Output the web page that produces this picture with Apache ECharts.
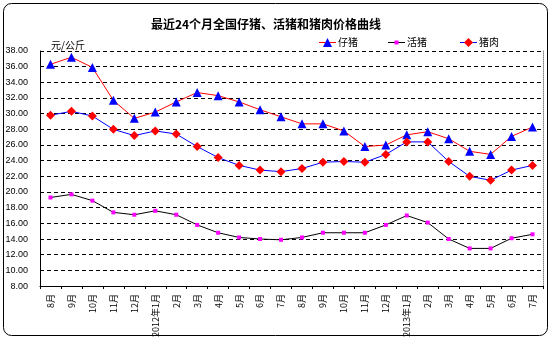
<!DOCTYPE html>
<html><head><meta charset="utf-8">
<script src="https://cdn.jsdelivr.net/npm/echarts@6/dist/echarts.min.js"></script>
<style>html,body{margin:0;padding:0;background:#fff}#c{width:553px;height:340px}</style>
</head><body><div id="c"></div>
<script>
var categories = ['8月','9月','10月','11月','12月','2012年1月','2月','3月','4月','5月','6月','7月','8月','9月','10月','11月','12月','2013年1月','2月','3月','4月','5月','6月','7月'];
var piglet = [36.3,37.2,35.9,31.7,29.4,30.2,31.5,32.7,32.3,31.5,30.5,29.6,28.7,28.7,27.8,25.8,26.0,27.3,27.7,26.8,25.2,24.8,27.1,28.3];
var hog    = [19.3,19.7,18.9,17.4,17.1,17.6,17.1,15.8,14.8,14.2,14.0,13.9,14.2,14.8,14.8,14.8,15.8,17.0,16.1,14.0,12.8,12.8,14.1,14.6];
var pork   = [29.8,30.3,29.7,28.0,27.2,27.8,27.4,25.8,24.4,23.4,22.8,22.6,23.0,23.8,23.9,23.8,24.8,26.4,26.4,23.9,22.0,21.5,22.8,23.4];
var yMin = 8, yMax = 38, yStep = 2;
var seriesNames = ['仔猪','活猪','猪肉'];
var titleText = '最近24个月全国仔猪、活猪和猪肉价格曲线';
var unitText = '元/公斤';

var lineColors = ['#ff0000','#000000','#0000ff'];
var markColors = ['#0000ff','#ff00ff','#ff0000'];
var symbols = ['triangle','rect','diamond'];
var symSizes = [9,4,9];
var cjk = '"Noto Sans CJK SC", sans-serif';

var legendX = [319, 388, 460];
var legendY = 42;
var graphics = [{type:'rect', shape:{x:3.5,y:3.5,width:544,height:332,r:8}, style:{fill:'none', stroke:'#000', lineWidth:1}, z:-1}];
seriesNames.forEach(function(n, i){
  var x0 = legendX[i];
  graphics.push({type:'line', shape:{x1:x0, y1:legendY+0.5, x2:x0+17, y2:legendY+0.5}, style:{stroke: lineColors[i], lineWidth:1}});
  var s = symSizes[i], cx = x0 + 8.5, cy = legendY + 0.5;
  if (symbols[i] === 'triangle') {
    graphics.push({type:'polygon', shape:{points:[[cx, cy-s/2],[cx+s/2, cy+s/2],[cx-s/2, cy+s/2]]}, style:{fill: markColors[i]}});
  } else if (symbols[i] === 'rect') {
    graphics.push({type:'rect', shape:{x:cx-s/2, y:cy-s/2, width:s, height:s}, style:{fill: markColors[i]}});
  } else {
    graphics.push({type:'polygon', shape:{points:[[cx, cy-s/2],[cx+s/2, cy],[cx, cy+s/2],[cx-s/2, cy]]}, style:{fill: markColors[i]}});
  }
  graphics.push({type:'text', x: x0 + 19, y: legendY, style:{text: n, fill:'#000', font: '10px ' + cjk, textVerticalAlign:'middle', verticalAlign:'middle'}});
});

var chart = echarts.init(document.getElementById('c'), null, {renderer:'canvas'});
chart.setOption({
  animation: false,
  backgroundColor: '#fff',
  textStyle: {fontFamily: cjk, color: '#000'},
  title: [
    {text: titleText, left: 261, textAlign: 'center', top: 13,
     textStyle: {fontFamily: cjk, fontSize: 12, fontWeight: 'bold', color: '#000'}},
    {text: unitText, left: 46, top: 35,
     textStyle: {fontFamily: cjk, fontSize: 10, fontWeight: 'normal', color: '#000'}}
  ],
  graphic: graphics,
  grid: {left: 40, right: 10, top: 51, bottom: 53},
  xAxis: {
    type: 'category', data: categories, boundaryGap: true,
    axisLine: {lineStyle: {color: '#000', width: 1}},
    axisTick: {show: true, interval: 0, length: 3, lineStyle: {color: '#000'}},
    axisLabel: {interval: 0, rotate: 90, margin: 8, fontSize: 9, color: '#000', fontFamily: cjk},
    splitLine: {show: false}
  },
  yAxis: [{
    type: 'value', min: yMin, max: yMax, interval: yStep,
    axisLine: {show: true, lineStyle: {color: '#000', width: 1}},
    axisTick: {show: false},
    axisLabel: {formatter: function(v){return v.toFixed(2);}, fontSize: 9, margin: 12, color: '#000', fontFamily: '"Liberation Sans", sans-serif'},
    splitLine: {show: true, lineStyle: {color: '#000', type: [4,3], width: 1}}
  },{
    type: 'value', min: yMin, max: yMax, interval: yStep, position: 'right',
    axisLine: {show: true, lineStyle: {color: '#888', type: 'dotted', width: 1}},
    axisTick: {show: false}, axisLabel: {show: false}, splitLine: {show: false}
  }],
  series: seriesNames.map(function(n, i){
    return {name: n, type: 'line', data: [piglet, hog, pork][i], symbol: symbols[i], symbolSize: symSizes[i],
      lineStyle: {color: lineColors[i], width: 1}, itemStyle: {color: markColors[i]}};
  })
});
</script></body></html>
